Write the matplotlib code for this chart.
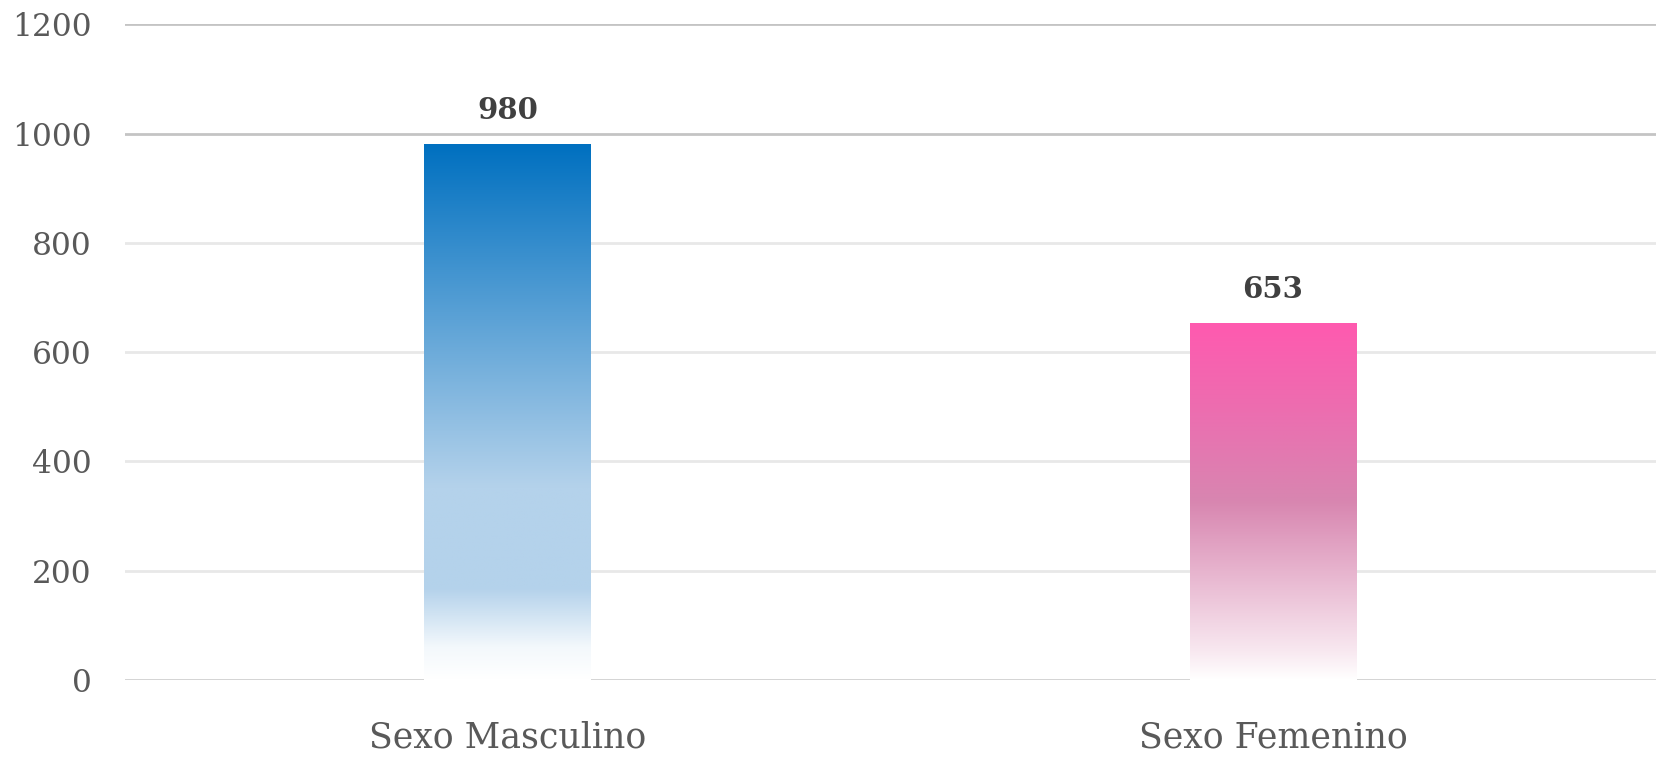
import numpy as np
import matplotlib
matplotlib.use("Agg")
from matplotlib import pyplot as plt
from matplotlib.colors import LinearSegmentedColormap

categories = ["Sexo Masculino", "Sexo Femenino"]
values = [980, 653]
y_ticks = [0, 200, 400, 600, 800, 1000, 1200]

# gradient stops (fraction of bar height from bottom, colour)
blue_stops = [(0.0, "#FFFFFF"), (0.06, "#F3F8FC"), (0.17, "#B4D2EB"),
              (0.36, "#B4D2EB"), (1.0, "#0070C0")]
pink_stops = [(0.0, "#FFFFFF"), (0.08, "#F8E8F0"), (0.5, "#D886B0"),
              (0.75, "#EC6EB0"), (1.0, "#FF5AAF")]

plt.rcParams["font.family"] = ["DejaVu Serif"]

fig = plt.figure(figsize=(16.59, 7.57), dpi=100)
ax = fig.add_axes([0.0753, 0.1017, 0.9227, 0.8663])

x = np.arange(len(categories))
bars = ax.bar(x, values, width=0.218, color="none", edgecolor="none", zorder=2)

for bar, stops in zip(bars, [blue_stops, pink_stops]):
    cmap = LinearSegmentedColormap.from_list("g", stops)
    grad = np.linspace(0, 1, 256).reshape(-1, 1)
    x0, y0 = bar.get_x(), bar.get_y()
    w, h = bar.get_width(), bar.get_height()
    im = ax.imshow(grad, cmap=cmap, origin="lower", aspect="auto",
                   extent=[x0, x0 + w, y0, y0 + h], zorder=2)
    im.set_clip_path(bar)

for bar, v in zip(bars, values):
    ax.annotate(str(v), (bar.get_x() + bar.get_width() / 2, v),
                xytext=(0, 14), textcoords="offset points",
                ha="center", va="bottom", fontsize=21, fontweight="bold",
                color="#404040")

ax.set_xlim(-0.5, 1.5)
ax.set_ylim(0, 1200)
ax.set_yticks(y_ticks)
ax.set_xticks(x)
ax.set_xticklabels(categories)

for t in y_ticks:
    if t >= 1000:
        c = "#C4C4C4"
    elif t == 0:
        c = "#D0D0D0"
    else:
        c = "#E8E8E8"
    ax.axhline(t, color=c, linewidth=2, zorder=1)

for s in ax.spines.values():
    s.set_visible(False)
ax.tick_params(axis="both", length=0, colors="#595959", labelsize=22.5)
ax.tick_params(axis="y", pad=24)
ax.tick_params(axis="x", pad=29)
for lbl in ax.get_xticklabels():
    lbl.set_fontsize(25)

fig.savefig("out.png", dpi=100)
